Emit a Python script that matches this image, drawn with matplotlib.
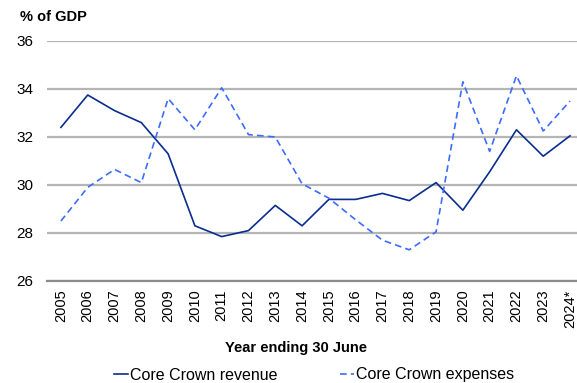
import matplotlib
matplotlib.use("Agg")
import matplotlib.pyplot as plt

plt.rcParams["font.family"] = ["Liberation Sans", "DejaVu Sans"]

years = ["2005", "2006", "2007", "2008", "2009", "2010", "2011", "2012", "2013", "2014",
         "2015", "2016", "2017", "2018", "2019", "2020", "2021", "2022", "2023", "2024*"]
revenue = [32.4, 33.75, 33.1, 32.6, 31.3, 28.3, 27.85, 28.1, 29.15, 28.3,
           29.4, 29.4, 29.65, 29.35, 30.1, 28.95, 30.55, 32.3, 31.2, 32.05]
expenses = [28.5, 29.9, 30.65, 30.1, 33.6, 32.3, 34.05, 32.1, 32.0, 30.05,
            29.45, 28.55, 27.7, 27.3, 28.05, 34.3, 31.4, 34.55, 32.25, 33.5]

REVENUE_COLOR = "#0a2d8f"
EXPENSE_COLOR = "#3d6bff"

fig = plt.figure(figsize=(5.77, 3.83), dpi=100)
ax = fig.add_axes([47 / 577, 1 - 281 / 383, 530 / 577, 240 / 383])

x = list(range(len(years)))
ax.plot(x, revenue, color=REVENUE_COLOR, linewidth=1.2, label="Core Crown revenue")
ax.plot(x, expenses, color=EXPENSE_COLOR, linewidth=1.2, linestyle=(0, (4, 2.5)),
        label="Core Crown expenses")

ax.set_ylim(26, 36)
ax.set_yticks([26, 28, 30, 32, 34, 36])
ax.set_xlim(-0.52, len(years) - 1 + 0.26)
ax.set_xticks(x)
ax.set_xticklabels(years, rotation=90, fontsize=10.5)
ax.tick_params(axis="y", labelsize=11, length=0, pad=10)
ax.tick_params(axis="x", length=0, pad=6)

ax.grid(axis="y", color="#b5b5b5", linewidth=1.6)
ax.set_axisbelow(True)
for side in ["top", "right", "left"]:
    ax.spines[side].set_visible(False)
ax.spines["bottom"].set_color("#8c8c8c")
ax.spines["bottom"].set_linewidth(1.6)

fig.text(20 / 577, 1 - 17 / 383, "% of GDP", fontsize=10.5, fontweight="bold",
         ha="left", va="center")
fig.text(296 / 577, 1 - 348 / 383, "Year ending 30 June", fontsize=10.5,
         fontweight="bold", ha="center", va="center")

fig.legend(loc="center", bbox_to_anchor=(314 / 577, 1 - 375 / 383), ncol=2,
           frameon=False, fontsize=11.5, handlelength=0.9, handletextpad=0.12,
           columnspacing=3.9, borderpad=0, borderaxespad=0)

fig.savefig("out.png", dpi=100)
